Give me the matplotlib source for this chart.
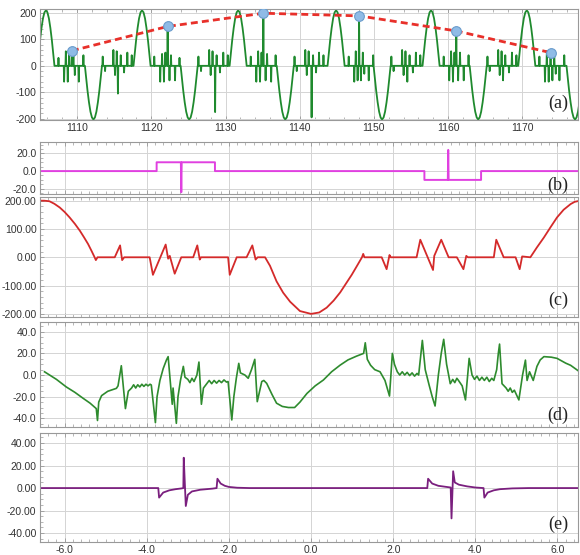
import matplotlib
matplotlib.use('Agg')
import matplotlib.pyplot as plt
from matplotlib.ticker import FormatStrFormatter, MultipleLocator, FixedLocator

# ---------------- data: panel (a) ----------------
pos_centers = [1105.8, 1118.75, 1131.7, 1144.9, 1157.7, 1170.6]
neg_centers = [1112.2, 1125.1, 1138.05, 1151.1, 1164.05, 1177.1]
pos_amp = 210
neg_amp = -203
lobe_off = [-1.15, -1.0, -0.8, -0.6, -0.4, -0.2, 0.0, 0.2, 0.4, 0.6, 0.8, 1.0, 1.15]
lobe_frac = [0.0, 0.2, 0.46, 0.68, 0.855, 0.963, 1.0, 0.963, 0.855, 0.68, 0.46, 0.2, 0.0]

spike_x = [
    1107.49, 1108.25, 1108.48, 1108.74, 1108.92, 1109.3, 1109.5, 1109.69, 1110.23, 1110.85,
    1113.45, 1113.77, 1114.89, 1115.11, 1115.34, 1115.5, 1115.88, 1116.33, 1116.77, 1117.36,
    1120.4, 1121.2, 1121.45, 1121.7, 1121.9, 1122.2, 1122.45, 1122.65, 1123.2, 1123.8,
    1126.35, 1126.7, 1127.8, 1128.0, 1128.25, 1128.6, 1128.8, 1129.25, 1129.7, 1130.3,
    1133.4, 1134.15, 1134.4, 1134.65, 1134.85, 1135.1, 1135.4, 1135.6, 1136.15, 1136.75,
    1139.3, 1139.6, 1140.75, 1140.95, 1141.2, 1141.6, 1141.8, 1142.2, 1142.6, 1143.2,
    1146.6, 1147.35, 1147.55, 1147.8, 1148.0, 1148.25, 1148.5, 1148.7, 1149.3, 1149.9,
    1152.35, 1152.65, 1153.8, 1154.0, 1154.25, 1154.5, 1154.8, 1155.25, 1155.65, 1156.25,
    1159.4, 1160.15, 1160.4, 1160.65, 1160.85, 1161.1, 1161.35, 1161.6, 1162.1, 1162.75,
    1165.3, 1165.6, 1166.75, 1166.95, 1167.2, 1167.4, 1167.7, 1168.2, 1168.6, 1169.2,
    1172.3, 1173.05, 1173.3, 1173.55, 1173.8, 1174.05, 1174.3, 1174.5, 1175.0, 1175.65,
]
spike_y = [
    30, -60, 55, -60, 55, 57, 55, -35, -60, 40,
    35, -20, 60, -35, 55, -105, 40, -25, 50, 40,
    35, -60, 45, -60, 50, 149, -55, 40, -55, 30,
    35, -20, 60, -35, 55, -175, 40, -25, 50, 40,
    35, -60, 55, -60, 50, 199, -55, 45, -60, 40,
    35, -20, 60, -35, 55, -195, 40, -25, 50, 40,
    35, -60, 55, -55, 189, -55, 50, -30, -55, 40,
    35, -20, 60, -35, 55, -60, 40, -25, 50, 40,
    35, -55, 55, -60, 50, 132, -55, 50, -55, 40,
    35, -20, 60, -35, 55, -55, 40, -25, 50, 40,
    35, -60, 55, -60, 50, -55, 50, -30, -55, 40,
]
marker_x = [1109.3, 1122.2, 1135.1, 1148.0, 1161.1, 1173.8]
marker_y = [57, 149, 199, 189, 132, 50]
a_xticks = [1110, 1120, 1130, 1140, 1150, 1160, 1170]
a_yticks = [-200, -100, 0, 100, 200]

# ---------------- data: panel (b) ----------------
b_x = [-6.7, -3.76, -3.76, -3.17, -3.16, -3.15, -2.34, -2.34,
       2.76, 2.76, 3.33, 3.34, 3.35, 4.14, 4.14, 6.6]
b_y = [0, 0, 10, 10, -24, 10, 10, 0,
       0, -10, -10, 24, -10, -10, 0, 0]

# ---------------- data: panel (c) ----------------
c_x = [-6.65, -6.5, -6.37, -6.25, -6.12, -6.0, -5.88, -5.75, -5.63, -5.53, -5.43, -5.35, -5.27, -5.24, -5.2,
       -4.78, -4.65, -4.6, -4.55, -3.93, -3.85, -3.54, -3.48, -3.44, -3.32, -3.16,
       -2.87, -2.77, -2.71, -2.68, -2.02, -1.98, -1.81, -1.57, -1.43, -1.35, -1.3, -1.12,
       -1.0, -0.84, -0.68, -0.51, -0.27, 0.0, 0.2, 0.38, 0.55, 0.71, 0.85, 0.99, 1.12, 1.24, 1.27, 1.3,
       1.72, 1.84, 1.91, 1.94, 2.57, 2.66, 2.97, 3.0, 3.17, 3.35, 3.55, 3.71, 3.78, 3.82,
       4.45, 4.51, 4.69, 4.98, 5.08, 5.14, 5.34, 5.5, 5.67, 5.83, 5.99, 6.15, 6.32, 6.42, 6.55]
c_y = [200, 200, 198, 189, 176, 160, 141, 118, 94, 71, 47, 24, 0, -10, 0,
       0, 42, -10, 0, 0, -62, 45, -5, 5, -58, 0,
       0, 42, -8, 0, 0, -62, 0, 0, 42, -8, 0, 0,
       -30, -85, -125, -157, -190, -200, -195, -178, -153, -124, -93, -62, -30, 0, 12, 0,
       0, -42, 8, 0, 0, 62, -45, 5, 62, 0, 0, -42, 5, 0,
       0, 62, 0, 0, -42, 3, 0, 35, 70, 106, 141, 168, 188, 196, 200]

# ---------------- data: panel (d) ----------------
d_x = [-6.49, -6.2, -5.96, -5.75, -5.55, -5.38, -5.23, -5.2, -5.17, -5.1, -4.95, -4.74, -4.7, -4.62, -4.52,
       -4.45, -4.37, -4.32, -4.27, -4.22, -4.17, -4.12, -4.07, -4.02, -3.97, -3.92, -3.89,
       -3.79, -3.75, -3.68, -3.6, -3.52, -3.48, -3.38, -3.36, -3.28, -3.24, -3.18, -3.11, -3.07,
       -3.0, -2.95, -2.9, -2.85, -2.78, -2.73, -2.67, -2.62, -2.54, -2.48, -2.42, -2.36, -2.3, -2.24,
       -2.18, -2.12, -2.06, -2.02, -1.93, -1.88, -1.82, -1.76, -1.72, -1.61, -1.53, -1.45, -1.37,
       -1.31, -1.2, -1.15, -1.08, -0.95, -0.84, -0.7, -0.55, -0.4, -0.27, -0.1, 0.1, 0.3, 0.5,
       0.71, 0.9, 1.11, 1.28, 1.32, 1.37, 1.45, 1.55, 1.68, 1.8, 1.91, 1.98, 2.03, 2.1, 2.16, 2.22,
       2.28, 2.34, 2.4, 2.46, 2.52, 2.58, 2.62, 2.71, 2.78, 2.88, 2.95, 3.02, 3.1, 3.17, 3.23, 3.3,
       3.39, 3.45, 3.5, 3.55, 3.59, 3.68, 3.76, 3.85, 3.92, 3.98, 4.04, 4.1, 4.16, 4.22, 4.28, 4.34,
       4.4, 4.45, 4.52, 4.56, 4.59, 4.65, 4.75, 4.8, 4.85, 4.9, 4.95, 5.0, 5.06, 5.15, 5.22, 5.26,
       5.32, 5.41, 5.5, 5.58, 5.67, 5.85, 5.99, 6.2, 6.32, 6.54]
d_y = [3, -4, -11, -16, -21.5, -26, -31, -42, -25, -19, -15, -12.3, -10, 8.6, -31,
       -15, -12, -9, -12, -9, -11, -8.5, -10.5, -8.5, -10, -8.5, -9.2,
       -44, -20, -5, 6, 14, 17, -27, -12, -44.6, -20, -5, 8, -2,
       -4, -7, -3, -6, 0, 12, -27, -12, -8, -5, -8, -5, -7.5, -5,
       -7, -4.5, -6.5, -6, -41.5, -20, -3, 10.8, 2, 0, -3, 5, 14.5,
       -24.6, -6, -5, -7.7, -18, -26, -29, -30, -30, -25, -17, -10, -4.6, 3,
       9.2, 14, 17.5, 20, 29.8, 14.5, 9, 5, 3, -5, -19.4, 20, 10, 3, 0, 3,
       0, 2.5, -0.5, 2, -1, 1.5, 0, 32, 5, -10, -20, -28.6, 0, 20, 33, 10,
       -8, -4, -7, -3, -5, -10, -23, 15.4, 0, -4, -1, -5, -2, -5, -2, -6,
       -3, -5, 5, 20, 28.6, -8, -12, -15, -12, -16, -14, -18, -23, 0, 13.8, -5,
       3, -5, 8, 14, 17, 16.5, 15.4, 11, 9, 3]

# ---------------- data: panel (e) ----------------
e_x = [-6.7, -3.72, -3.7, -3.6, -3.45, -3.3, -3.15, -3.11, -3.1, -3.05, -3.0, -2.9, -2.7, -2.4,
       -2.3, -2.28, -2.2, -2.1, -2.0, -1.8, -1.5,
       2.83, 2.85, 2.95, 3.1, 3.3, 3.4, 3.42, 3.46, 3.5, 3.6, 3.8, 4.0, 4.2,
       4.22, 4.3, 4.45, 4.6, 4.9, 5.3, 6.6]
e_y = [0, 0, -8.5, -4, -2, -1, -0.3, 0, 27, -16, -6, -3, -1.5, -0.5,
       0, 8.3, 4, 2, 1, 0.3, 0,
       0, 8.3, 4, 2, 1, 0.5, -27, 15, 5, 3, 1.5, 0.5, 0,
       -8.5, -4, -2, -1, -0.3, 0, 0]

bottom_xticks = [-6.0, -4.0, -2.0, 0.0, 2.0, 4.0, 6.0]

# ---------------- figure ----------------
W, H = 580, 555
fig = plt.figure(figsize=(W / 100, H / 100), dpi=100)
LEFT, RIGHT = 40, 578


def mkax(top, bottom):
    return fig.add_axes([LEFT / W, 1 - bottom / H, (RIGHT - LEFT) / W, (bottom - top) / H])


def style(ax):
    for s in ax.spines.values():
        s.set_color('#999999')
        s.set_linewidth(0.8)
    ax.grid(True, which='major', color='#d4d4d4', linewidth=0.7)
    ax.set_axisbelow(True)
    ax.tick_params(which='both', direction='in', top=True, bottom=True, left=True, right=False,
                   colors='#999999', labelcolor='#333333', labelsize=7.5, pad=2.5)
    ax.tick_params(which='major', length=3, width=0.6)
    ax.tick_params(which='minor', length=2, width=0.5)
    for lab in ax.get_xticklabels() + ax.get_yticklabels():
        lab.set_fontfamily(['Liberation Sans', 'DejaVu Sans'])


def panel_label(ax, s, ypx_center, top, bottom):
    yfrac = (bottom - ypx_center) / (bottom - top)
    ax.text((558 - LEFT) / (RIGHT - LEFT), yfrac, s, transform=ax.transAxes,
            ha='center', va='center', fontsize=13, color='#222222',
            family=['Liberation Serif', 'DejaVu Serif'])


# panel (a)
ax_a = mkax(9, 120)
pts = []
for c in pos_centers:
    for o, f in zip(lobe_off, lobe_frac):
        pts.append((c + o, pos_amp * f))
for c in neg_centers:
    for o, f in zip(lobe_off, lobe_frac):
        pts.append((c + o, neg_amp * f))
for sx, sy in zip(spike_x, spike_y):
    pts += [(sx - 0.05, 0.0), (sx, sy), (sx + 0.05, 0.0)]
pts.sort(key=lambda p: p[0])
ax_a.plot([p[0] for p in pts], [p[1] for p in pts], color='#1f8a2e', lw=1.3, zorder=2)
ax_a.plot(marker_x, marker_y, color='#e8302a', lw=2.0, ls=(0, (2.5, 1.5)), zorder=3)
ax_a.plot(marker_x, marker_y, ls='none', marker='o', ms=7, mfc='#8fbbe6', mec='#6a9ccc', mew=0.8, zorder=4)
ax_a.set_xlim(1105, 1177.5)
ax_a.set_ylim(-205, 215)
ax_a.xaxis.set_major_locator(FixedLocator(a_xticks))
ax_a.yaxis.set_major_locator(FixedLocator(a_yticks))
ax_a.xaxis.set_minor_locator(MultipleLocator(2))
ax_a.yaxis.set_minor_locator(MultipleLocator(20))
ax_a.yaxis.set_major_formatter(FormatStrFormatter('%d'))
style(ax_a)
panel_label(ax_a, '(a)', 103, 9, 120)

XL = (-6.6, 6.5)

# panel (b)
ax_b = mkax(142, 194)
ax_b.plot(b_x, b_y, color='#e040e0', lw=1.4)
ax_b.set_xlim(*XL)
ax_b.set_ylim(-26, 33)
ax_b.yaxis.set_major_locator(FixedLocator([-20, 0, 20]))
ax_b.yaxis.set_major_formatter(FormatStrFormatter('%.1f'))
ax_b.yaxis.set_minor_locator(MultipleLocator(5))

# panel (c)
ax_c = mkax(197, 317)
ax_c.plot(c_x, c_y, color='#d42a2a', lw=1.3)
ax_c.set_xlim(*XL)
ax_c.set_ylim(-211, 213)
ax_c.yaxis.set_major_locator(FixedLocator([-200, -100, 0, 100, 200]))
ax_c.yaxis.set_major_formatter(FormatStrFormatter('%.2f'))
ax_c.yaxis.set_minor_locator(MultipleLocator(20))

# panel (d)
ax_d = mkax(322, 427)
ax_d.plot(d_x, d_y, color='#2e8b2e', lw=1.2)
ax_d.set_xlim(*XL)
ax_d.set_ylim(-48, 49)
ax_d.yaxis.set_major_locator(FixedLocator([-40, -20, 0, 20, 40]))
ax_d.yaxis.set_major_formatter(FormatStrFormatter('%.1f'))
ax_d.yaxis.set_minor_locator(MultipleLocator(5))

# panel (e)
ax_e = mkax(433, 542)
ax_e.plot(e_x, e_y, color='#7a1f7e', lw=1.3)
ax_e.set_xlim(*XL)
ax_e.set_ylim(-48, 49)
ax_e.yaxis.set_major_locator(FixedLocator([-40, -20, 0, 20, 40]))
ax_e.yaxis.set_major_formatter(FormatStrFormatter('%.2f'))
ax_e.yaxis.set_minor_locator(MultipleLocator(5))

for ax in (ax_b, ax_c, ax_d, ax_e):
    ax.xaxis.set_major_locator(FixedLocator(bottom_xticks))
    ax.xaxis.set_minor_locator(MultipleLocator(0.2))
    ax.xaxis.set_major_formatter(FormatStrFormatter('%.1f'))
    style(ax)
for ax in (ax_b, ax_c, ax_d):
    ax.tick_params(labelbottom=False)

panel_label(ax_b, '(b)', 185, 142, 194)
panel_label(ax_c, '(c)', 300, 197, 317)
panel_label(ax_d, '(d)', 415, 322, 427)
panel_label(ax_e, '(e)', 524, 433, 542)

fig.savefig('out.png', dpi=100)
